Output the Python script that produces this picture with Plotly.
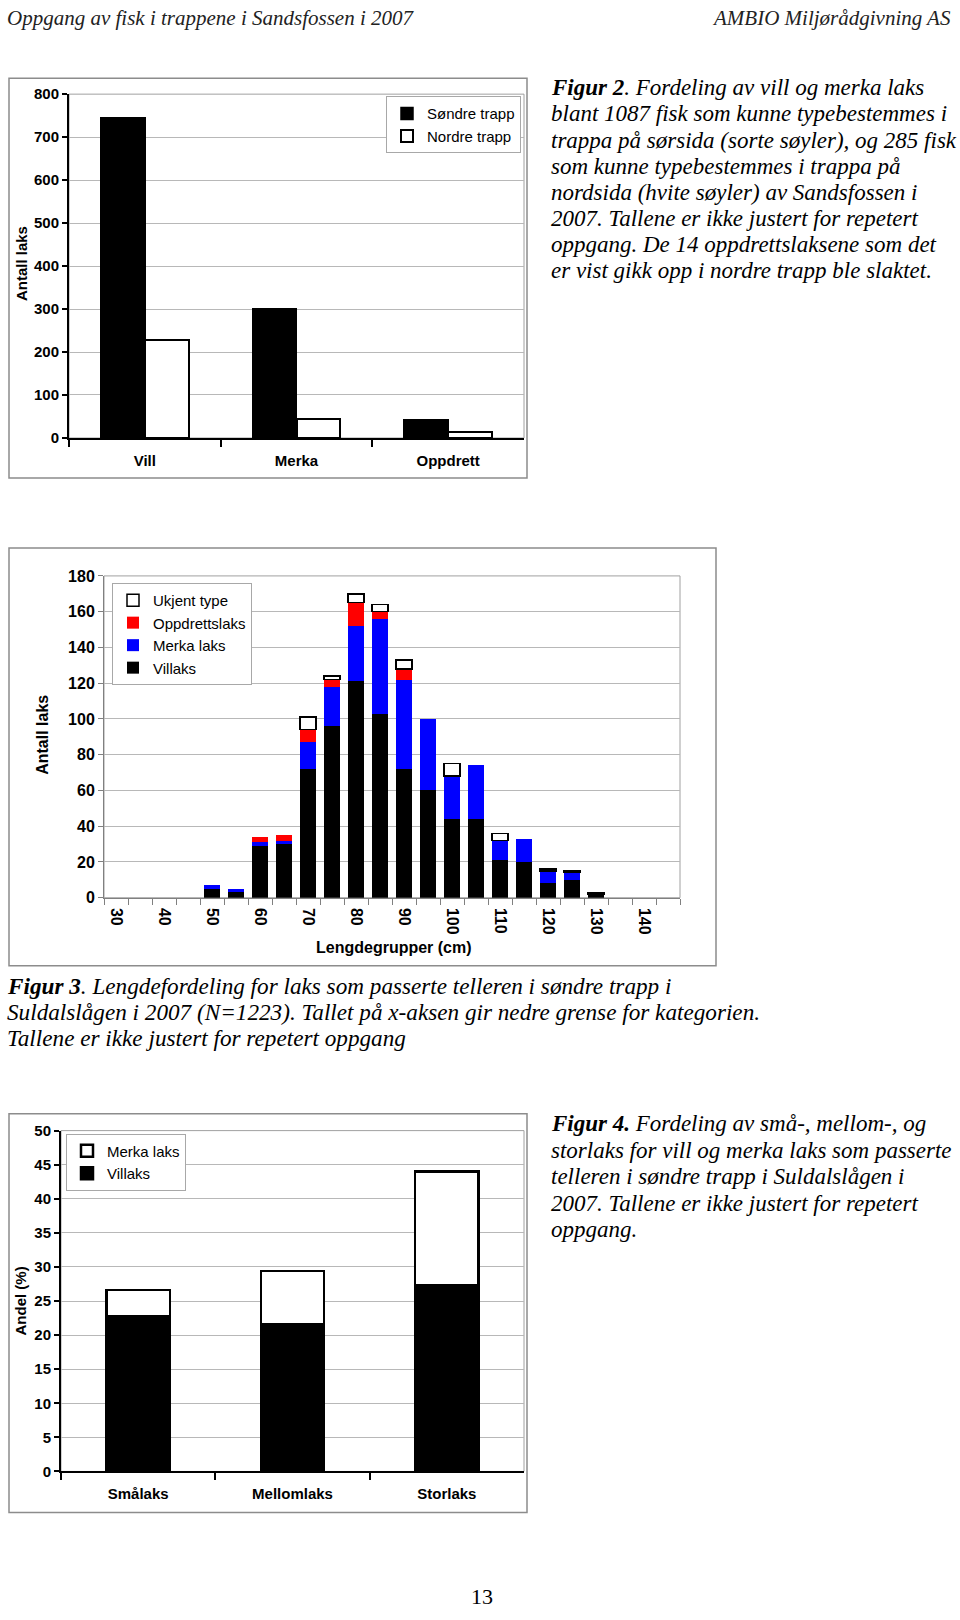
import plotly.graph_objects as go

W, H = 960, 1620
SANS = "Liberation Sans"
SERIF = "Liberation Serif"

# Figur 2 - vill / merka / oppdrett per trapp
groups = ["Vill", "Merka", "Oppdrett"]
sondre = [745, 300, 42]
nordre = [228, 43, 14]

# Figur 3 - lengdefordeling, sondre trapp
lengths = [str(v) for v in range(30, 150, 5)]
villaks = [0, 0, 0, 0, 5, 3, 29, 30, 72, 96, 121, 103, 72, 60, 44, 44, 21, 20, 8, 10, 2, 0, 0, 0]
merka = [0, 0, 0, 0, 2, 2, 2, 2, 15, 22, 31, 53, 50, 40, 24, 30, 11, 13, 7, 4, 0, 0, 0, 0]
oppdrett = [0, 0, 0, 0, 0, 0, 3, 3, 7, 4, 13, 4, 6, 0, 0, 0, 0, 0, 0, 0, 0, 0, 0, 0]
ukjent = [0, 0, 0, 0, 0, 0, 0, 0, 7, 2, 5, 4, 5, 0, 7, 0, 4, 0, 1, 1, 1, 0, 0, 0]
length_ticks = [v if int(v) % 10 == 0 and int(v) <= 140 else "" for v in lengths]

# Figur 4 - andel smaa/mellom/stor
size_classes = ["Smålaks", "Mellomlaks", "Storlaks"]
andel_vill = [22.8, 21.6, 27.3]
andel_merka = [3.8, 7.8, 16.7]


def px(x):
    return x / W


def py(y):
    # page y (px from top) -> paper fraction; small correction for how the page is photographed
    return 1 - (y - 8.8) / 0.9894 / H


def nz(vals):
    return [v if v else None for v in vals]


fig = go.Figure()

# chart 1
fig.add_trace(go.Bar(x=groups, y=sondre, name="Søndre trapp", width=0.29, offset=-0.29,
                     marker=dict(color="black", line=dict(color="black", width=1.5)),
                     xaxis="x", yaxis="y", legend="legend"))
fig.add_trace(go.Bar(x=groups, y=nordre, name="Nordre trapp", width=0.29, offset=0,
                     marker=dict(color="white", line=dict(color="black", width=2)),
                     xaxis="x4", yaxis="y", legend="legend"))

# chart 2
for vals, name, col, lw in [(villaks, "Villaks", "black", 0),
                            (merka, "Merka laks", "#0000ff", 0),
                            (oppdrett, "Oppdrettslaks", "#ff0000", 0),
                            (ukjent, "Ukjent type", "white", 1.5)]:
    fig.add_trace(go.Bar(x=lengths, y=nz(vals), name=name, width=0.67,
                         marker=dict(color=col, line=dict(color="black", width=lw)),
                         xaxis="x2", yaxis="y2", legend="legend2"))

# chart 3
fig.add_trace(go.Bar(x=size_classes, y=andel_vill, name="Villaks", width=0.41,
                     marker=dict(color="black", line=dict(color="black", width=2.5)),
                     xaxis="x3", yaxis="y3", legend="legend3"))
fig.add_trace(go.Bar(x=size_classes, y=andel_merka, name="Merka laks", width=0.41,
                     marker=dict(color="white", line=dict(color="black", width=2.5)),
                     xaxis="x3", yaxis="y3", legend="legend3"))

tick_b15 = dict(family=SANS, size=15, color="black", weight="bold")
tick_b16 = dict(family=SANS, size=16, color="black", weight="bold")

xcat = dict(type="category", tickson="boundaries", ticks="outside", showgrid=False,
            zeroline=False, fixedrange=True)
yval = dict(ticks="outside", ticklen=5, showgrid=True, gridcolor="#b8b8b8", gridwidth=1,
            zeroline=False, showline=True, fixedrange=True)

leg = dict(bgcolor="white", bordercolor="#a8a8a8", borderwidth=1, itemwidth=30,
           font=dict(family=SANS, size=15, color="black"), tracegroupgap=0)

fig.update_layout(
    width=W, height=H, margin=dict(l=0, r=0, t=0, b=0),
    paper_bgcolor="white", plot_bgcolor="white", barmode="stack", showlegend=True,
    xaxis=dict(xcat, domain=[px(69), px(524)], anchor="y", range=[-0.5, 2.5],
               categoryorder="array", categoryarray=groups, ticklen=7, tickwidth=2,
               tickcolor="black", showline=True, linecolor="black", linewidth=2,
               tickfont=tick_b15, ticklabelstandoff=8),
    xaxis4=dict(type="category", overlaying="x", anchor="y", range=[-0.5, 2.5],
                categoryorder="array", categoryarray=groups, visible=False),
    yaxis=dict(yval, domain=[py(438), py(94)], anchor="x", range=[0, 800], dtick=100,
               linecolor="black", linewidth=2, tickcolor="black", tickwidth=2,
               tickfont=tick_b15),
    xaxis2=dict(xcat, domain=[px(104), px(680)], anchor="y2", categoryorder="array",
                categoryarray=lengths, tickmode="array", tickvals=lengths,
                ticktext=length_ticks, tickangle=90, ticklen=6, tickcolor="#808080",
                showline=True, linecolor="#808080", linewidth=1, tickfont=tick_b16,
                ticklabelstandoff=6),
    yaxis2=dict(yval, domain=[py(898), py(576)], anchor="x2", range=[0, 180], dtick=20,
                linecolor="#808080", linewidth=1, tickcolor="#808080", tickfont=tick_b16),
    xaxis3=dict(xcat, domain=[px(61), px(524)], anchor="y3", range=[-0.5, 2.5],
                categoryorder="array", categoryarray=size_classes, ticklen=7, tickwidth=2,
                tickcolor="black", showline=True, linecolor="black", linewidth=2,
                tickfont=tick_b15, ticklabelstandoff=8),
    yaxis3=dict(yval, domain=[py(1472), py(1131)], anchor="x3", range=[0, 50], dtick=5,
                linecolor="black", linewidth=2, tickcolor="black", tickwidth=2,
                tickfont=tick_b15),
    legend=dict(leg, x=px(521), xanchor="right", y=py(96), yanchor="top", traceorder="normal"),
    legend2=dict(leg, x=px(112), xanchor="left", y=py(583), yanchor="top", traceorder="reversed"),
    legend3=dict(leg, x=px(66), xanchor="left", y=py(1134), yanchor="top", traceorder="reversed"),
)

# chart frames and plot-area borders
shapes = []
for x0, y0, x1, y1 in [(9, 78, 527, 478), (9, 548, 716, 966), (9, 1114, 527, 1513)]:
    shapes.append(dict(type="rect", xref="paper", yref="paper", x0=px(x0), x1=px(x1),
                       y0=py(y1), y1=py(y0), line=dict(color="#8c8c8c", width=1.5),
                       layer="below"))
for ax in ["x", "x2", "x3"]:
    yax = ax.replace("x", "y")
    shapes.append(dict(type="rect", xref=ax + " domain", yref=yax + " domain", x0=0, x1=1,
                       y0=0, y1=1, line=dict(color="#a0a0a0", width=1), layer="below"))
fig.update_layout(shapes=shapes)

ann = []


def text(x, y, s, size=23, anchor="left", family=SERIF, style="italic", angle=0,
         weight="normal", color="black", yanchor="middle"):
    ann.append(dict(x=px(x), y=py(y) if y is not None else 0, xref="paper", yref="paper",
                    text=s, showarrow=False, xanchor=anchor, yanchor=yanchor,
                    textangle=angle,
                    font=dict(family=family, size=size, style=style, weight=weight,
                              color=color)))


# page header (kept just inside the top edge)
text(5, 18, "Oppgang av fisk i trappene i Sandsfossen i 2007", size=21, color="#222")
text(953, 18, "AMBIO Miljørådgivning AS", size=21, anchor="right", color="#222")

# axis titles
text(21, 264, "Antall laks", size=15, family=SANS, style="normal", angle=-90, weight="bold",
     anchor="center")
text(43, 735, "Antall laks", size=16, family=SANS, style="normal", angle=-90, weight="bold",
     anchor="center")
text(394, 948, "Lengdegrupper (cm)", size=16, family=SANS, style="normal", weight="bold",
     anchor="center")
text(21, 1302, "Andel (%)", size=15, family=SANS, style="normal", angle=-90, weight="bold",
     anchor="center")

fig2_lines = ["<b>Figur 2</b>. Fordeling av vill og merka laks",
              "blant 1087 fisk som kunne typebestemmes i",
              "trappa på sørsida (sorte søyler), og 285 fisk",
              "som kunne typebestemmes i trappa på",
              "nordsida (hvite søyler) av Sandsfossen i",
              "2007. Tallene er ikke justert for repetert",
              "oppgang. De 14 oppdrettslaksene som det",
              "er vist gikk opp i nordre trapp ble slaktet."]
for i, s in enumerate(fig2_lines):
    text(549, 87.5 + i * 26.2, s)

fig3_lines = ["<b>Figur 3</b>. Lengdefordeling for laks som passerte telleren i søndre trapp i",
              "Suldalslågen i 2007 (N=1223). Tallet på x-aksen gir nedre grense for kategorien.",
              "Tallene er ikke justert for repetert oppgang"]
for i, s in enumerate(fig3_lines):
    text(5, 986 + i * 26.4, s, size=23.2)

fig4_lines = ["<b>Figur 4.</b> Fordeling av små-, mellom-, og",
              "storlaks for vill og merka laks som passerte",
              "telleren i søndre trapp i Suldalslågen i",
              "2007. Tallene er ikke justert for repetert",
              "oppgang."]
for i, s in enumerate(fig4_lines):
    text(549, 1124 + i * 26.6, s)

# page number, sitting on the bottom edge
text(482, None, "13", size=22, style="normal", anchor="center", yanchor="bottom")

fig.update_layout(annotations=ann)

# the page body has a default 8px margin; drop it so the figure fills the window
fig.write_html("out.html", config={"displayModeBar": False},
               post_script="document.body.style.margin='0';")
